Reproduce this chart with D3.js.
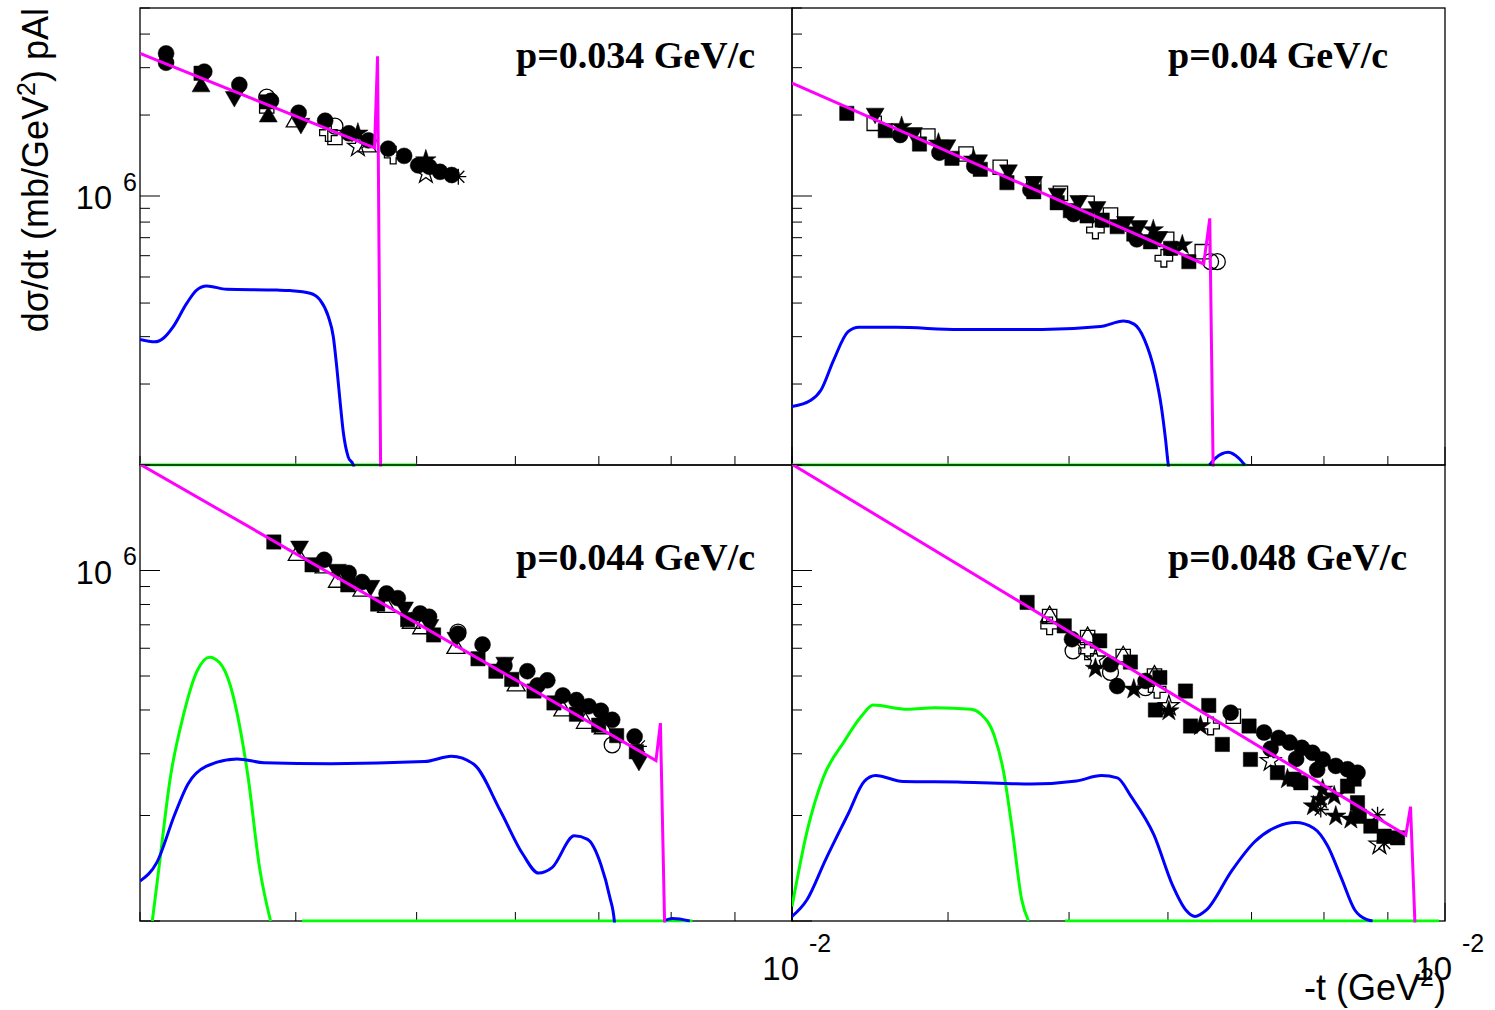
<!DOCTYPE html>
<html>
<head>
<meta charset="utf-8">
<script src="https://cdn.jsdelivr.net/npm/d3@7"></script>
<style>
  body { margin: 0; background: #fff; }
  svg { display: block; }
</style>
</head>
<body>
<svg id="chart" width="1495" height="1010"></svg>
<script>
// ---- data ----
const tDomain = [0.003, 0.01];
const yDomainTop = [1e5, 5e6];
const yDomainBottom = [1e5, 2e6];
const panelLabels = ["p=0.034 GeV/c", "p=0.04 GeV/c", "p=0.044 GeV/c", "p=0.048 GeV/c"];

// fit (magenta), each row [-t, dsigma/dt]
const fitTL = [[0.003, 3.39e6], [0.004626, 1.51e6], [0.004652, 3.31e6], [0.004679, 9e4]];
const fitTR = [[0.003, 2.63e6], [0.006409, 5.59e5], [0.006481, 8.26e5], [0.006523, 9e4]];
const fitBL = [[0.003, 2.01e6], [0.007779, 2.87e5], [0.007843, 3.67e5], [0.007908, 9e4]];
const fitBR = [[0.003, 2.01e6], [0.009303, 1.76e5], [0.009384, 2.12e5], [0.00947, 9e4]];

// blue curves (0 = not drawn)
const blueTL = [[0.003, 2.93e5], [0.003084, 2.87e5], [0.003132, 2.96e5], [0.00319, 3.27e5], [0.00327, 3.99e5],
  [0.003331, 4.47e5], [0.003393, 4.63e5], [0.003521, 4.50e5], [0.003862, 4.47e5], [0.003958, 4.45e5],
  [0.004107, 4.35e5], [0.004183, 4.11e5], [0.004248, 3.56e5], [0.004287, 3.0e5], [0.004314, 2.32e5],
  [0.00434, 1.74e5], [0.004367, 1.32e5], [0.004407, 1.07e5], [0.004448, 1.0e5], [0.00447, 9e4]];
const blueTR = [[0.003, 1.65e5], [0.003106, 1.74e5], [0.003165, 1.90e5], [0.00324, 2.46e5], [0.003327, 3.13e5],
  [0.003393, 3.25e5], [0.003636, 3.25e5], [0.00408, 3.19e5], [0.004761, 3.19e5], [0.005298, 3.27e5],
  [0.005529, 3.43e5], [0.005637, 3.34e5], [0.005747, 2.92e5], [0.005859, 2.19e5], [0.005927, 1.65e5],
  [0.005974, 1.24e5], [0.006004, 1.0e5], [0.00603, 9e4], [0.00645, 0],
  [0.006477, 1.0e5], [0.00655, 1.06e5], [0.006705, 1.115e5], [0.006836, 1.06e5], [0.006913, 1.0e5]];
const blueBL = [[0.003, 1.30e5], [0.003095, 1.47e5], [0.003198, 2.01e5], [0.003278, 2.46e5], [0.003389, 2.76e5],
  [0.003588, 2.90e5], [0.003772, 2.83e5], [0.004269, 2.81e5], [0.005074, 2.85e5], [0.005332, 2.95e5],
  [0.005557, 2.80e5], [0.005837, 2.06e5], [0.006084, 1.55e5], [0.006262, 1.37e5], [0.00642, 1.42e5],
  [0.00669, 1.75e5], [0.006856, 1.71e5], [0.007026, 1.45e5], [0.007143, 1.17e5], [0.007203, 1.0e5],
  [0.00722, 9e4], [0.0078, 0], [0.00789, 1.0e5], [0.00802, 1.016e5], [0.00828, 1.0e5]];
const blueBR = [[0.003, 1.03e5], [0.003084, 1.15e5], [0.00319, 1.49e5], [0.003327, 2.02e5], [0.003427, 2.50e5],
  [0.0035, 2.60e5], [0.003681, 2.50e5], [0.004107, 2.49e5], [0.00466, 2.46e5], [0.005069, 2.51e5],
  [0.005307, 2.60e5], [0.005466, 2.56e5], [0.005604, 2.27e5], [0.005847, 1.76e5], [0.006048, 1.27e5],
  [0.006201, 1.075e5], [0.006307, 1.03e5], [0.006442, 1.075e5], [0.006748, 1.39e5], [0.007037, 1.68e5],
  [0.007339, 1.86e5], [0.007589, 1.91e5], [0.007851, 1.84e5], [0.008053, 1.64e5], [0.008258, 1.33e5],
  [0.008468, 1.075e5], [0.00865, 1.01e5], [0.00875, 1.0e5]];

// green curves
const greenTL = [[0.003, 1e5], [0.005, 1e5]];
const greenTR = [[0.003, 1e5], [0.006937, 1e5]];
const greenBL = [[0.003069, 1e5], [0.003107, 1.42e5], [0.003172, 2.55e5], [0.003252, 3.89e5], [0.003333, 5.16e5],
  [0.003411, 5.66e5], [0.003473, 5.47e5], [0.003545, 4.69e5], [0.003605, 3.62e5], [0.003664, 2.55e5],
  [0.003741, 1.42e5], [0.003818, 1e5], [0.00393, 0], [0.004046, 1e5], [0.008321, 1e5]];
const greenBR = [[0.003, 1.10e5], [0.003084, 1.80e5], [0.003177, 2.56e5], [0.003299, 3.23e5], [0.003412, 3.85e5],
  [0.003484, 4.13e5], [0.003712, 4.02e5], [0.003904, 4.06e5], [0.004175, 4.02e5], [0.004247, 3.90e5],
  [0.004356, 3.38e5], [0.00443, 2.68e5], [0.004505, 1.80e5], [0.004582, 1.15e5], [0.00464, 1e5],
  [0.0048, 0], [0.004963, 1e5], [0.009889, 1e5]];

// data points, [-t, dsigma/dt, ROOT marker style]
const markersTL = [
  [0.003148, 3.39e6, 20], [0.003148, 3.13e6, 20], [0.003378, 2.90e6, 20], [0.003604, 2.59e6, 20],
  [0.003821, 2.26e6, 20], [0.004021, 2.04e6, 20], [0.004223, 1.905e6, 20], [0.004412, 1.71e6, 20],
  [0.004575, 1.61e6, 20], [0.004744, 1.50e6, 20], [0.004886, 1.41e6, 20], [0.005014, 1.30e6, 20],
  [0.005118, 1.285e6, 20], [0.005221, 1.23e6, 20], [0.005334, 1.197e6, 20],
  [0.003358, 2.86e6, 21], [0.003791, 2.24e6, 21],
  [0.003358, 2.55e6, 22], [0.003802, 1.97e6, 22],
  [0.003571, 2.34e6, 23], [0.004038, 1.86e6, 23],
  [0.003791, 2.33e6, 24], [0.0043, 1.82e6, 24],
  [0.003791, 2.16e6, 25], [0.0043, 1.65e6, 25],
  [0.003996, 1.89e6, 26], [0.004564, 1.525e6, 26],
  [0.004248, 1.72e6, 28], [0.004788, 1.42e6, 28],
  [0.004486, 1.71e6, 29], [0.005086, 1.36e6, 29],
  [0.004486, 1.525e6, 30], [0.005086, 1.214e6, 30],
  [0.0054, 1.18e6, 31]
];
const markersTR = [
  [0.003319, 2.029e6, 21], [0.003563, 1.749e6, 21], [0.003795, 1.561e6, 21], [0.004029, 1.381e6, 21],
  [0.004245, 1.257e6, 21], [0.004459, 1.121e6, 21], [0.004685, 1.037e6, 21], [0.004892, 0.944e6, 21],
  [0.005012, 0.882e6, 21], [0.005169, 0.843e6, 21], [0.005315, 0.814e6, 21], [0.005464, 0.769e6, 21],
  [0.005634, 0.7225e6, 21], [0.00581, 0.676e6, 21], [0.006029, 0.639e6, 21], [0.006236, 0.570e6, 21],
  [0.003497, 2.029e6, 23], [0.003753, 1.719e6, 23], [0.003992, 1.548e6, 23], [0.004232, 1.361e6, 23],
  [0.004471, 1.249e6, 23], [0.004685, 1.13e6, 23], [0.004892, 1.023e6, 23], [0.00509, 0.961e6, 23],
  [0.005264, 0.912e6, 23], [0.005548, 0.8025e6, 23], [0.005686, 0.775e6, 23], [0.0059, 0.706e6, 23],
  [0.003491, 1.863e6, 25], [0.003854, 1.671e6, 25], [0.004135, 1.433e6, 25], [0.004404, 1.279e6, 25],
  [0.004685, 1.108e6, 25], [0.004921, 1.023e6, 25], [0.005169, 0.9395e6, 25], [0.005397, 0.85e6, 25],
  [0.005986, 0.69e6, 25], [0.006392, 0.621e6, 25],
  [0.003662, 1.686e6, 20], [0.003937, 1.449e6, 20], [0.004198, 1.293e6, 20], [0.004656, 1.053e6, 20],
  [0.005042, 0.857e6, 20], [0.005665, 0.69e6, 20],
  [0.003672, 1.81e6, 29], [0.00393, 1.57e6, 29], [0.004193, 1.369e6, 29], [0.00584, 0.7475e6, 29],
  [0.006161, 0.657e6, 29],
  [0.005249, 0.7475e6, 28], [0.005955, 0.587e6, 28],
  [0.006491, 0.57e6, 24], [0.006572, 0.57e6, 24]
];
const markersBL = [
  [0.003841, 1.206e6, 21], [0.004122, 1.038e6, 21], [0.004403, 0.910e6, 21], [0.004653, 0.802e6, 21],
  [0.004918, 0.724e6, 21], [0.005159, 0.655e6, 21], [0.0056, 0.560e6, 21], [0.005788, 0.516e6, 21],
  [0.00596, 0.489e6, 21], [0.00621, 0.453e6, 21], [0.006443, 0.419e6, 21], [0.006716, 0.389e6, 21],
  [0.006998, 0.362e6, 21], [0.007234, 0.338e6, 21], [0.007502, 0.304e6, 21],
  [0.004028, 1.173e6, 23], [0.00432, 1.007e6, 23], [0.004595, 0.906e6, 23], [0.004889, 0.786e6, 23],
  [0.005124, 0.700e6, 23], [0.005376, 0.644e6, 23], [0.005884, 0.547e6, 23], [0.007538, 0.287e6, 23],
  [0.004215, 1.073e6, 20], [0.00441, 0.984e6, 20], [0.00452, 0.927e6, 20], [0.00473, 0.860e6, 20],
  [0.004829, 0.834e6, 20], [0.005033, 0.754e6, 20], [0.005116, 0.738e6, 20], [0.005397, 0.660e6, 20],
  [0.005647, 0.615e6, 20], [0.006134, 0.516e6, 20], [0.006365, 0.486e6, 20], [0.006716, 0.427e6, 20],
  [0.007026, 0.398e6, 20], [0.007175, 0.375e6, 20], [0.007478, 0.336e6, 20],
  [0.005880, 0.535e6, 20], [0.006250, 0.470e6, 20], [0.006550, 0.440e6, 20], [0.006870, 0.410e6, 20],
  [0.004011, 1.106e6, 26], [0.004215, 1.019e6, 26], [0.00432, 0.927e6, 26], [0.00452, 0.874e6, 26],
  [0.00473, 0.786e6, 26], [0.004951, 0.708e6, 26], [0.005047, 0.683e6, 26], [0.005376, 0.600e6, 26],
  [0.006009, 0.469e6, 26], [0.00655, 0.398e6, 26], [0.006829, 0.367e6, 26], [0.007058, 0.354e6, 26],
  [0.007175, 0.318e6, 24], [0.005397, 0.667e6, 24],
  [0.007538, 0.315e6, 31]
];
const markersBR = [
  [0.004628, 0.811e6, 21], [0.004956, 0.695e6, 21], [0.005291, 0.630e6, 21], [0.005599, 0.548e6, 21],
  [0.005911, 0.495e6, 21], [0.006197, 0.453e6, 21], [0.006469, 0.412e6, 21], [0.005863, 0.400e6, 21],
  [0.006255, 0.360e6, 21], [0.006633, 0.319e6, 21], [0.006968, 0.360e6, 21], [0.006986, 0.289e6, 21],
  [0.007342, 0.265e6, 21], [0.007666, 0.248e6, 21], [0.00851, 0.2175e6, 21], [0.008538, 0.199e6, 21],
  [0.008722, 0.1865e6, 21], [0.009163, 0.1727e6, 21], [0.008939, 0.1746e6, 21],
  [0.007571, 0.254e6, 21], [0.008355, 0.2426e6, 21], [0.008457, 0.254e6, 21],
  [0.004824, 0.739e6, 25], [0.005174, 0.644e6, 25], [0.005525, 0.568e6, 25], [0.005853, 0.500e6, 25],
  [0.006769, 0.384e6, 25],
  [0.004824, 0.739e6, 26], [0.005174, 0.644e6, 26], [0.005525, 0.568e6, 26], [0.005853, 0.500e6, 26],
  [0.004824, 0.695e6, 28], [0.005174, 0.590e6, 28], [0.005881, 0.458e6, 28], [0.006491, 0.360e6, 28],
  [0.005027, 0.637e6, 20], [0.005397, 0.540e6, 20], [0.005464, 0.468e6, 20], [0.005757, 0.484e6, 20],
  [0.006735, 0.393e6, 20], [0.007163, 0.345e6, 20], [0.00736, 0.333e6, 20], [0.007509, 0.323e6, 20],
  [0.007681, 0.312e6, 20], [0.007832, 0.302e6, 20], [0.007983, 0.289e6, 20], [0.008176, 0.277e6, 20],
  [0.008355, 0.271e6, 20], [0.00851, 0.265e6, 20],
  [0.007250, 0.310e6, 20], [0.007600, 0.290e6, 20], [0.007900, 0.270e6, 20],
  [0.005037, 0.590e6, 24], [0.005397, 0.512e6, 24], [0.005757, 0.463e6, 24],
  [0.005249, 0.525e6, 29], [0.005634, 0.458e6, 29], [0.00601, 0.397e6, 29], [0.006371, 0.360e6, 29],
  [0.007479, 0.254e6, 29], [0.007846, 0.2127e6, 29], [0.008176, 0.199e6, 29], [0.007953, 0.222e6, 29],
  [0.00798, 0.2374e6, 29], [0.008152, 0.2272e6, 29], [0.008407, 0.1949e6, 29],
  [0.005249, 0.558e6, 30], [0.00601, 0.411e6, 30], [0.007251, 0.286e6, 30], [0.008861, 0.1653e6, 30],
  [0.008831, 0.201e6, 31], [0.008939, 0.167e6, 31], [0.007953, 0.208e6, 31]
];

// ---- layout ----
const sans = "'Liberation Sans', Arial, Helvetica, sans-serif";
const serif = "'Liberation Serif', 'Times New Roman', serif";
const cols = [[140, 792], [792, 1445]];
const rows = [[8, 465], [465, 921]];

const panels = [
  {c: 0, r: 0, yDom: yDomainTop, label: panelLabels[0], labelY: 68, fit: fitTL, blue: blueTL, green: greenTL, marks: markersTL},
  {c: 1, r: 0, yDom: yDomainTop, label: panelLabels[1], labelY: 68, fit: fitTR, blue: blueTR, green: greenTR, marks: markersTR},
  {c: 0, r: 1, yDom: yDomainBottom, label: panelLabels[2], labelY: 570, fit: fitBL, blue: blueBL, green: greenBL, marks: markersBL},
  {c: 1, r: 1, yDom: yDomainBottom, label: panelLabels[3], labelY: 570, fit: fitBR, blue: blueBR, green: greenBR, marks: markersBR}
];

const svg = d3.select("#chart");
svg.append("rect").attr("width", 1495).attr("height", 1010).attr("fill", "#fff");

const isDecade = v => Math.abs(Math.log10(v) - Math.round(Math.log10(v))) < 1e-9;

// ROOT-like marker shapes
const full = new Set([20, 21, 22, 23, 29, 34]);
function markerPath(code) {
  switch (code) {
    case 20: case 24: return d3.symbol(d3.symbolCircle, 200)();
    case 21: case 25: return d3.symbol(d3.symbolSquare, 205)();
    case 22: case 26: case 23: return d3.symbol(d3.symbolTriangle, 140)();
    case 28: return d3.symbol(d3.symbolCross, 170)();
    case 29: case 30: return d3.symbol(d3.symbolStar, 130)();
    default: return "M-8,0H8M0,-8V8M-6,-6L6,6M-6,6L6,-6"; // asterisk
  }
}

panels.forEach((p, i) => {
  const [x0, x1] = cols[p.c];
  const [y0, y1] = rows[p.r];
  const x = d3.scaleLog().domain(tDomain).range([x0, x1]);
  const y = d3.scaleLog().domain(p.yDom).range([y1, y0]);
  const g = svg.append("g");

  // frame
  g.append("rect").attr("x", x0).attr("y", y0).attr("width", x1 - x0).attr("height", y1 - y0)
    .attr("fill", "none").attr("stroke", "#000").attr("stroke-width", 1.3);

  // y ticks (left side, inside)
  g.selectAll(".yt").data(y.ticks()).join("line")
    .attr("x1", x0).attr("x2", d => x0 + (isDecade(d) ? 20 : 10))
    .attr("y1", d => y(d)).attr("y2", d => y(d))
    .attr("stroke", "#000").attr("stroke-width", 1);

  // x ticks (bottom, inside)
  g.selectAll(".xt").data(x.ticks()).join("line")
    .attr("x1", d => x(d)).attr("x2", d => x(d))
    .attr("y1", y1).attr("y2", d => y1 - (isDecade(d) ? 18 : 9))
    .attr("stroke", "#000").attr("stroke-width", 1);

  // tick labels only where visible in the original (not at the frame bottom)
  if (p.c === 0) {
    y.ticks().filter(v => isDecade(v) && v > p.yDom[0]).forEach(v => {
      const yy = y(v);
      g.append("text").attr("x", x0 - 28).attr("y", yy + 13).attr("text-anchor", "end")
        .attr("font-family", sans).attr("font-size", 32.5).text("10");
      g.append("text").attr("x", x0 - 17).attr("y", yy - 5.5)
        .attr("font-family", sans).attr("font-size", 25).text(Math.round(Math.log10(v)));
    });
  }
  if (p.r === 1) {
    x.ticks().filter(isDecade).forEach(v => {
      const xx = x(v);
      g.append("text").attr("x", xx + 7).attr("y", 980).attr("text-anchor", "end")
        .attr("font-family", sans).attr("font-size", 33).text("10");
      g.append("text").attr("x", xx + 17).attr("y", 952)
        .attr("font-family", sans).attr("font-size", 25).text(Math.round(Math.log10(v)));
    });
  }

  // clipped plotting area
  svg.append("clipPath").attr("id", "clip" + i).append("rect")
    .attr("x", x0).attr("y", y0).attr("width", x1 - x0).attr("height", y1 - y0 + 1.5);
  const area = svg.append("g").attr("clip-path", `url(#clip${i})`);

  const smooth = d3.line().defined(d => d[1] > 0)
    .x(d => x(d[0])).y(d => y(d[1])).curve(d3.curveMonotoneX);
  const straight = d3.line().x(d => x(d[0])).y(d => y(d[1]));

  area.append("path").attr("d", smooth(p.green)).attr("fill", "none")
    .attr("stroke", "#00ff00").attr("stroke-width", 3);
  area.append("path").attr("d", smooth(p.blue)).attr("fill", "none")
    .attr("stroke", "#0000ff").attr("stroke-width", 3);

  area.selectAll(".mk").data(p.marks).join("path")
    .attr("d", d => markerPath(d[2]))
    .attr("transform", d => `translate(${x(d[0])},${y(d[1])})` + (d[2] === 23 ? " rotate(180)" : ""))
    .attr("fill", d => full.has(d[2]) ? "#000" : "none")
    .attr("stroke", "#000").attr("stroke-width", d => full.has(d[2]) ? 0.5 : 1.3);

  area.append("path").attr("d", straight(p.fit)).attr("fill", "none")
    .attr("stroke", "#ff00ff").attr("stroke-width", 3).attr("stroke-linejoin", "miter");

  // panel label
  svg.append("text").attr("x", x0 + 376).attr("y", p.labelY)
    .attr("font-family", serif).attr("font-weight", "bold").attr("font-size", 38)
    .text(p.label);
});

// axis titles
const yt = svg.append("text").attr("transform", "translate(48,8) rotate(-90)")
  .attr("text-anchor", "end").attr("font-family", sans).attr("font-size", 36);
yt.append("tspan").text("d\u03c3/dt (mb/GeV");
yt.append("tspan").attr("dy", -13).attr("font-size", 25).text("2");
yt.append("tspan").attr("dy", 13).text(") pAl");

const xt = svg.append("text").attr("x", 1446).attr("y", 1000)
  .attr("text-anchor", "end").attr("font-family", sans).attr("font-size", 36);
xt.append("tspan").text("-t (GeV");
xt.append("tspan").attr("dy", -14).attr("font-size", 25).text("2");
xt.append("tspan").attr("dy", 14).text(")");
</script>
</body>
</html>
